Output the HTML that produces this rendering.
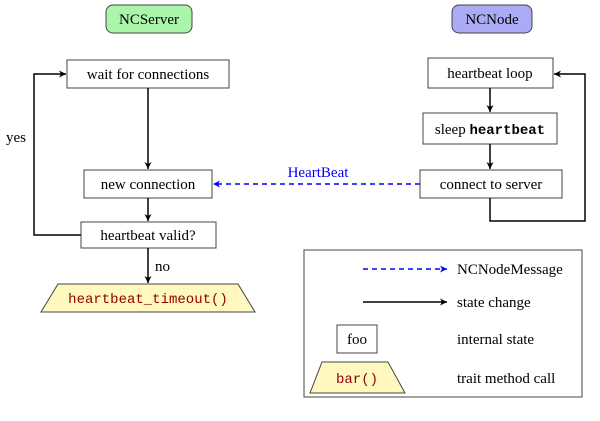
<!DOCTYPE html>
<html><head><meta charset="utf-8"><style>
body{margin:0;background:#fff}
svg text{font-family:"Liberation Serif",serif;font-size:15px;fill:#000}
.m{font-family:"Liberation Mono",monospace;font-size:14px}
</style></head><body>
<svg width="600" height="416" viewBox="0 0 600 416">
<defs>
<marker id="a" markerWidth="8" markerHeight="8" refX="7" refY="4" orient="auto" markerUnits="userSpaceOnUse"><path d="M0,0.5 L7,4 L0,7.5 L2,4Z" fill="#000"/></marker>
<marker id="b" markerWidth="8" markerHeight="8" refX="7" refY="4" orient="auto" markerUnits="userSpaceOnUse"><path d="M0,0.5 L7,4 L0,7.5 L2,4Z" fill="#00f"/></marker>
</defs>
<g stroke="#444" stroke-width="1">
<rect x="106" y="5" width="86" height="28" rx="7" fill="#aaf5aa"/>
<rect x="452" y="5" width="80" height="28" rx="7" fill="#aaaaf5"/>
<rect x="67" y="60" width="162" height="28" fill="#fff"/>
<rect x="84" y="170" width="128" height="28" fill="#fff"/>
<rect x="81" y="222" width="135" height="26" fill="#fff"/>
<polygon points="58,284 238,284 255,312 41,312" fill="#fff8bf"/>
<rect x="428" y="58" width="125" height="30" fill="#fff"/>
<rect x="423" y="113" width="134" height="31" fill="#fff"/>
<rect x="420" y="170" width="142" height="28" fill="#fff"/>
<rect x="304" y="250" width="278" height="147" fill="#fff"/>
<rect x="337" y="325" width="40" height="28" fill="#fff"/>
<polygon points="322,362 388,362 405,393 310,393" fill="#fff8bf"/>
</g>
<g stroke="#000" stroke-width="1.5" fill="none">
<line x1="148" y1="88" x2="148" y2="169" marker-end="url(#a)"/>
<line x1="148" y1="198" x2="148" y2="221" marker-end="url(#a)"/>
<line x1="148" y1="248" x2="148" y2="283" marker-end="url(#a)"/>
<polyline points="81,235 34,235 34,74 66,74" marker-end="url(#a)"/>
<line x1="490" y1="88" x2="490" y2="112" marker-end="url(#a)"/>
<line x1="490" y1="144" x2="490" y2="169" marker-end="url(#a)"/>
<polyline points="490,198 490,221 585,221 585,74 554,74" marker-end="url(#a)"/>
<line x1="363" y1="302" x2="447" y2="302" marker-end="url(#a)"/>
</g>
<g stroke="#00f" stroke-width="1.5" fill="none" stroke-dasharray="5,4">
<line x1="420" y1="184" x2="213" y2="184" marker-end="url(#b)"/>
<line x1="363" y1="269" x2="447" y2="269" marker-end="url(#b)"/>
</g>
<text x="149" y="24" text-anchor="middle">NCServer</text>
<text x="492" y="24" text-anchor="middle">NCNode</text>
<text x="148" y="79" text-anchor="middle">wait for connections</text>
<text x="148" y="189" text-anchor="middle">new connection</text>
<text x="148" y="240" text-anchor="middle">heartbeat valid?</text>
<text x="148" y="303" text-anchor="middle" class="m" style="fill:#900000">heartbeat_timeout()</text>
<text x="6" y="142">yes</text>
<text x="155" y="271">no</text>
<text x="490" y="78" text-anchor="middle">heartbeat loop</text>
<text x="490" y="134" text-anchor="middle">sleep <tspan class="m" font-weight="bold">heartbeat</tspan></text>
<text x="491" y="189" text-anchor="middle">connect to server</text>
<text x="318" y="177" text-anchor="middle" style="fill:#00f">HeartBeat</text>
<text x="457" y="274">NCNodeMessage</text>
<text x="457" y="307">state change</text>
<text x="357" y="344" text-anchor="middle">foo</text>
<text x="457" y="344">internal state</text>
<text x="357" y="383" text-anchor="middle" class="m" style="fill:#900000">bar()</text>
<text x="457" y="383">trait method call</text>
</svg>
</body></html>
